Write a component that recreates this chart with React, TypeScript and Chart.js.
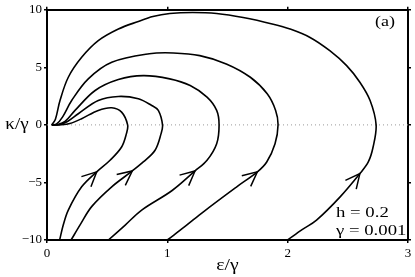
import React, { useEffect, useRef } from "react";
import { Chart, registerables } from "chart.js";

Chart.register(...registerables);

// Axis ticks
const xTickValues = [0, 1, 2, 3];
const yTickValues = [-10, -5, 0, 5, 10];
const yTickLabels = ["\u221210", "\u22125", "0", "5", "10"];

// Orbits (ε/γ, κ/γ)
const orbit1X = [0.105, 0.135, 0.177, 0.288, 0.413, 0.524, 0.62, 0.66, 0.67, 0.62, 0.538, 0.426, 0.288, 0.19, 0.12, 0.04];
const orbit1Y = [-10, -8.7, -7.4, -5.38, -4.08, -3.07, -1.92, -0.76, 0, 1.11, 1.49, 1.26, 0.54, 0.12, 0.01, 0];

const orbit2X = [0.2, 0.28, 0.371, 0.538, 0.709, 0.80, 0.898, 0.948, 0.96, 0.925, 0.87, 0.759, 0.593, 0.426, 0.26, 0.17, 0.1, 0.04];
const orbit2Y = [-10, -8.6, -7.1, -5.38, -4.0, -3.22, -2.2, -0.76, 0, 1.26, 1.69, 2.27, 2.47, 2.12, 0.97, 0.3, 0.02, 0];

const orbit3X = [0.51, 0.65, 0.787, 1.04, 1.23, 1.33, 1.41, 1.43, 1.41, 1.33, 1.19, 1.02, 0.80, 0.593, 0.40, 0.233, 0.15, 0.09, 0.04];
const orbit3Y = [-10, -8.7, -7.4, -5.7, -4.0, -3.07, -1.63, 0, 1.26, 2.41, 3.42, 4.0, 4.28, 3.94, 2.99, 1.26, 0.3, 0.03, 0];

const orbit4X = [1.0, 1.15, 1.30, 1.577, 1.748, 1.826, 1.895, 1.92, 1.90, 1.83, 1.69, 1.49, 1.27, 1.05, 0.85, 0.538, 0.343, 0.205, 0.13, 0.08, 0.04];
const orbit4Y = [-10, -8.8, -7.55, -5.38, -4.08, -3.22, -1.63, 0, 1.26, 2.70, 4.14, 5.30, 6.02, 6.25, 6.18, 5.44, 4.0, 2.12, 0.7, 0.08, 0];

const orbit5X = [2.0, 2.12, 2.24, 2.436, 2.60, 2.67, 2.71, 2.735, 2.685, 2.60, 2.49, 2.35, 2.186, 2.02, 1.88, 1.63, 1.41, 1.21, 1.02, 0.88, 0.759, 0.593, 0.426, 0.288, 0.177, 0.108, 0.07, 0.04];
const orbit5Y = [-10, -9.1, -8.27, -6.25, -4.23, -3.22, -1.92, 0, 2.12, 3.71, 5.15, 6.45, 7.60, 8.33, 8.75, 9.33, 9.68, 9.77, 9.68, 9.42, 8.99, 8.33, 7.32, 5.87, 4.14, 2.12, 0.5, 0];

// Index of the arrow head on each orbit
const arrowIndex = [4, 4, 4, 4, 4];

const orbitsX = [orbit1X, orbit2X, orbit3X, orbit4X, orbit5X];
const orbitsY = [orbit1Y, orbit2Y, orbit3Y, orbit4Y, orbit5Y];

const SERIF = "'Liberation Serif', 'DejaVu Serif', serif";

const arrowPlugin = {
  id: "arrows",
  afterDatasetsDraw(chart: any) {
    const { ctx } = chart;
    const xs = chart.scales.x;
    const ys = chart.scales.y;
    ctx.save();
    ctx.strokeStyle = "#000";
    ctx.lineWidth = 1.5;
    orbitsX.forEach((ox, k) => {
      const oy = orbitsY[k];
      const i = arrowIndex[k];
      const px = xs.getPixelForValue(ox[i]);
      const py = ys.getPixelForValue(oy[i]);
      const ax = xs.getPixelForValue(ox[i - 1]);
      const ay = ys.getPixelForValue(oy[i - 1]);
      const bx = xs.getPixelForValue(ox[i + 1]);
      const by = ys.getPixelForValue(oy[i + 1]);
      const ang = Math.atan2(by - ay, bx - ax);
      const back = ang + Math.PI;
      const L = 16;
      const spread = 0.45;
      ctx.beginPath();
      ctx.moveTo(px + L * Math.cos(back - spread), py + L * Math.sin(back - spread));
      ctx.lineTo(px, py);
      ctx.lineTo(px + L * Math.cos(back + spread), py + L * Math.sin(back + spread));
      ctx.stroke();
    });
    ctx.restore();
  },
};

function stretchedText(ctx: any, text: string, x: number, y: number, sx: number, align: string) {
  ctx.save();
  ctx.translate(x, y);
  ctx.scale(sx, 1);
  ctx.textAlign = align;
  ctx.fillText(text, 0, 0);
  ctx.restore();
}

const textPlugin = {
  id: "texts",
  afterDraw(chart: any) {
    const { ctx, chartArea } = chart;
    ctx.save();
    ctx.fillStyle = "#000";
    ctx.textBaseline = "middle";
    ctx.font = `17px ${SERIF}`;
    stretchedText(ctx, "\u03ba/\u03b3", 17, (chartArea.top + chartArea.bottom) / 2, 1.12, "center");
    stretchedText(ctx, "\u03b5/\u03b3", (chartArea.left + chartArea.right) / 2, 266, 1.15, "center");
    ctx.font = `15px ${SERIF}`;
    stretchedText(ctx, "(a)", chartArea.right - 23, chartArea.top + 12, 1.2, "center");
    ctx.textBaseline = "alphabetic";
    ctx.font = `15px ${SERIF}`;
    stretchedText(ctx, "h = 0.2", 336, 217, 1.25, "left");
    stretchedText(ctx, "\u03b3 = 0.001", 336, 235, 1.25, "left");
    ctx.restore();
  },
};

export default function App() {
  const ref = useRef<HTMLCanvasElement>(null);
  useEffect(() => {
    document.body.style.margin = "0";
    const canvas = ref.current;
    if (!canvas) return;
    const axisGrid = {
      drawOnChartArea: false,
      drawTicks: true,
      tickLength: 3,
      color: "#000",
      lineWidth: 1.5,
    };
    const axisBorder = { display: true, color: "#000", width: 2 };
    const datasets: any[] = [
      {
        data: [
          { x: 0, y: 0 },
          { x: 3, y: 0 },
        ],
        showLine: true,
        borderColor: "#999",
        borderWidth: 1,
        borderDash: [1, 3],
        pointRadius: 0,
        order: 10,
      },
    ];
    orbitsX.forEach((ox, k) => {
      datasets.push({
        data: ox.map((v, i) => ({ x: v, y: orbitsY[k][i] })),
        showLine: true,
        borderColor: "#000",
        borderWidth: 1.6,
        pointRadius: 0,
        tension: 0.35,
        order: 0,
      });
    });
    const chart = new Chart(canvas, {
      type: "scatter",
      data: { datasets },
      options: {
        animation: false,
        responsive: false,
        maintainAspectRatio: false,
        layout: { padding: 0 },
        plugins: { legend: { display: false }, tooltip: { enabled: false } },
        scales: {
          x: {
            type: "linear",
            position: "bottom",
            min: 0,
            max: 3,
            afterBuildTicks: (s: any) => {
              s.ticks = xTickValues.map((v) => ({ value: v }));
            },
            ticks: {
              color: "#000",
              font: { family: SERIF, size: 13 },
              padding: 3,
              maxRotation: 0,
            },
            grid: axisGrid,
            border: axisBorder,
            afterFit: (s: any) => {
              s.height = 37;
            },
          },
          x2: {
            type: "linear",
            position: "top",
            min: 0,
            max: 3,
            afterBuildTicks: (s: any) => {
              s.ticks = xTickValues.map((v) => ({ value: v }));
            },
            ticks: { display: false },
            grid: axisGrid,
            border: axisBorder,
            afterFit: (s: any) => {
              s.height = 9;
            },
          },
          y: {
            type: "linear",
            position: "left",
            min: -10,
            max: 10,
            afterBuildTicks: (s: any) => {
              s.ticks = yTickValues.map((v) => ({ value: v }));
            },
            ticks: {
              color: "#000",
              font: { family: SERIF, size: 13 },
              padding: 2,
              callback: (v: any) => {
                const i = yTickValues.indexOf(Number(v));
                return i >= 0 ? yTickLabels[i] : "";
              },
            },
            grid: axisGrid,
            border: axisBorder,
            afterFit: (s: any) => {
              s.width = 47;
            },
          },
          y2: {
            type: "linear",
            position: "right",
            min: -10,
            max: 10,
            afterBuildTicks: (s: any) => {
              s.ticks = yTickValues.map((v) => ({ value: v }));
            },
            ticks: { display: false },
            grid: axisGrid,
            border: axisBorder,
            afterFit: (s: any) => {
              s.width = 7;
            },
          },
        },
      },
      plugins: [arrowPlugin, textPlugin],
    });
    return () => chart.destroy();
  }, []);
  return (
    <div style={{ width: 415, height: 277 }}>
      <canvas ref={ref} width={415} height={277} />
    </div>
  );
}
